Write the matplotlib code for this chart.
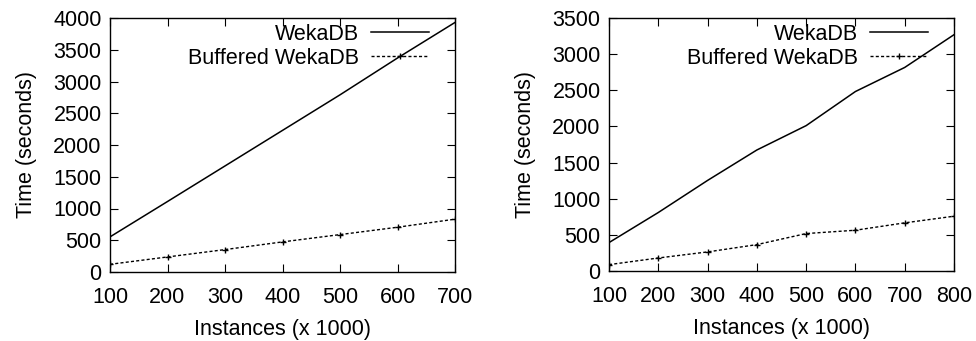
import matplotlib
matplotlib.use("Agg")
import matplotlib.pyplot as plt

plt.rcParams['font.family'] = ['Liberation Sans', 'DejaVu Sans']

x_left = [100, 200, 300, 400, 500, 600, 700]
weka_left = [553, 1110, 1670, 2230, 2790, 3370, 3930]
buf_left = [121, 237, 353, 474, 589, 705, 832]

x_right = [100, 200, 300, 400, 500, 600, 700, 800]
weka_right = [393, 809, 1253, 1674, 2011, 2483, 2816, 3269]
buf_right = [88, 180, 264, 365, 518, 564, 666, 758]

xlabel = "Instances (x 1000)"
ylabel = "Time (seconds)"
labels = ["WekaDB", "Buffered WekaDB"]

fig = plt.figure(figsize=(9.76, 3.41), dpi=100)
FS = 15.5

def make(ax, x, w, b, ymax, ystep, xmax):
    ax.plot(x, w, color='black', lw=1.1, label=labels[0])
    ax.plot(x, b, color='black', lw=1.0, linestyle=(0, (2.2, 1.6)),
            marker='+', markersize=5, markeredgewidth=1.0, label=labels[1])
    ax.set_xlim(100, xmax)
    ax.set_ylim(0, ymax)
    ax.set_xticks(range(100, xmax + 1, 100))
    ax.set_yticks(range(0, ymax + 1, ystep))
    ax.tick_params(direction='in', length=6, width=0.8, top=True, right=True,
                   labelsize=FS)
    ax.tick_params(axis='x', pad=11)
    ax.tick_params(axis='y', pad=6)
    ax.set_xlabel(xlabel, fontsize=FS, labelpad=8)
    ax.set_ylabel(ylabel, fontsize=FS, labelpad=12)
    for s in ax.spines.values():
        s.set_linewidth(1.0)
    ax.legend(loc='upper right', bbox_to_anchor=(0.924, 0.978), frameon=False,
              markerfirst=False, fontsize=FS,
              handlelength=2.7, handletextpad=0.55, labelspacing=0.15,
              borderaxespad=0.0, borderpad=0.0)

ax1 = fig.add_axes([110/976, 69/341, 345/976, 254/341])
make(ax1, x_left, weka_left, buf_left, 4000, 500, 700)
ax2 = fig.add_axes([609/976, 70/341, 345/976, 253/341])
make(ax2, x_right, weka_right, buf_right, 3500, 500, 800)

fig.savefig("out.png", dpi=100)
